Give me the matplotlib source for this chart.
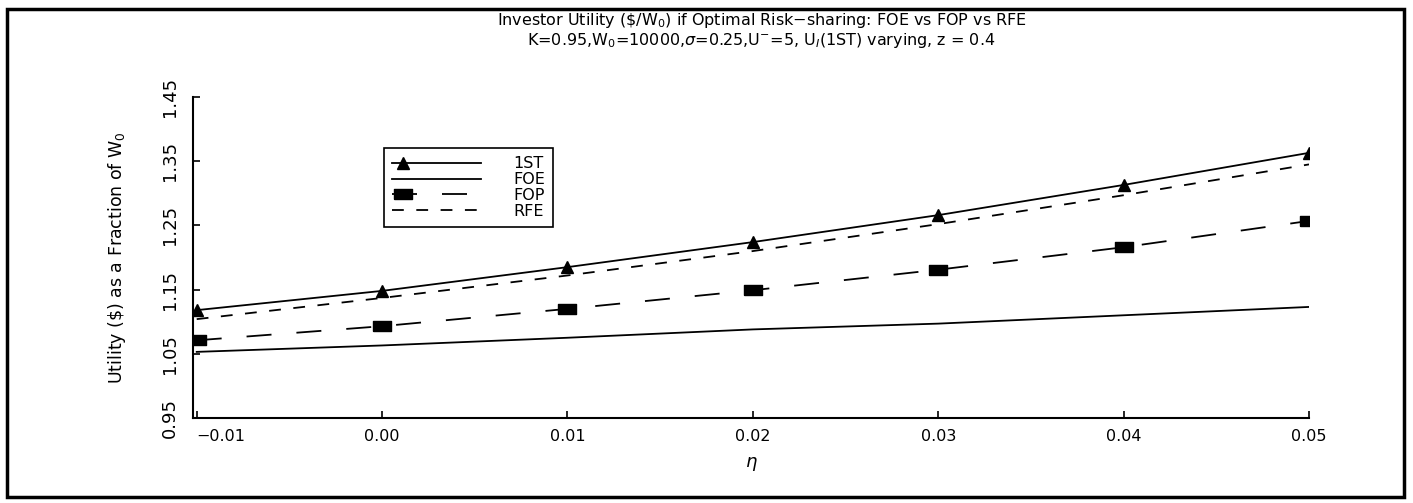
import numpy as np
import matplotlib
matplotlib.use("Agg")
import matplotlib.pyplot as plt
from matplotlib.legend_handler import HandlerLine2DCompound
from matplotlib.patches import Rectangle

# valeurs
eta = [-0.01, 0.00, 0.01, 0.02, 0.03, 0.04, 0.05]
u_1st = [1.118, 1.148, 1.185, 1.224, 1.266, 1.313, 1.363]
u_foe = [1.053, 1.063, 1.075, 1.088, 1.097, 1.110, 1.123]
u_fop = [1.071, 1.093, 1.120, 1.149, 1.181, 1.216, 1.257]
u_rfe = [1.104, 1.137, 1.172, 1.210, 1.252, 1.297, 1.345]

xticks = [-0.01, 0.00, 0.01, 0.02, 0.03, 0.04, 0.05]
xtick_labels = ["\u22120.01", "0.00", "0.01", "0.02", "0.03", "0.04", "0.05"]
yticks = [0.95, 1.05, 1.15, 1.25, 1.35, 1.45]
ytick_labels = ["0.95", "1.05", "1.15", "1.25", "1.35", "1.45"]

plt.rcParams['lines.scale_dashes'] = False

fig = plt.figure(figsize=(14.13, 5.03), dpi=100)
ax = fig.add_axes([193 / 1413, 1 - 418 / 503, (1309 - 193) / 1413, (418 - 97) / 503])

# marqueur rectangulaire large pour FOP
rect = [(-1, -0.5), (1, -0.5), (1, 0.5), (-1, 0.5), (-1, -0.5)]

ax.plot(eta, u_1st, color='black', lw=1.3, marker='^', ms=9, label='1ST')
ax.plot(eta, u_foe, color='black', lw=1.3, label='FOE')
ax.plot(eta, u_fop, color='black', lw=1.3, dashes=(18, 18), marker=rect, ms=13, label='FOP')
ax.plot(eta, u_rfe, color='black', lw=1.3, dashes=(8.5, 9), label='RFE')

ax.set_xlim(-0.0102, 0.05)
ax.set_ylim(0.95, 1.45)
ax.spines['top'].set_visible(False)
ax.spines['right'].set_visible(False)
ax.spines['left'].set_linewidth(1.5)
ax.spines['bottom'].set_linewidth(1.5)

ax.set_xticks(xticks)
ax.set_xticklabels(xtick_labels, fontsize=11.5)
ax.xaxis.get_ticklabels()[0].set_horizontalalignment('left')
ax.set_yticks(yticks)
ax.set_yticklabels(ytick_labels, rotation=90, va='center', fontsize=13)
ax.tick_params(direction='in', length=5, width=1.2)
ax.tick_params(axis='x', pad=8)
ax.tick_params(axis='y', pad=10)

ax.set_xlabel(r'$\eta$', fontsize=13, labelpad=8)
ax.set_ylabel(r'Utility (\$) as a Fraction of W$_0$', fontsize=12.5, labelpad=24)

# titre sur deux lignes
fig.text(0.539, 1 - 21 / 503, 'Investor Utility (\\$/W$_0$) if Optimal Risk\u2212sharing: FOE vs FOP vs RFE',
         ha='center', va='center', fontsize=11.5)
fig.text(0.539, 1 - 41 / 503, r'K=0.95,W$_0$=10000,$\sigma$=0.25,U$^{-}$=5, U$_I$(1ST) varying, z = 0.4',
         ha='center', va='center', fontsize=11.5)


# legende avec le marqueur a gauche du trait
class MarqueurGauche(HandlerLine2DCompound):
    def get_xdata(self, legend, xdescent, ydescent, width, height, fontsize):
        xdata = np.array([-xdescent, -xdescent + width])
        return xdata, np.array([-xdescent + 0.12 * width])


leg = ax.legend(loc='upper left', bbox_to_anchor=(0.171, 0.84),
                handler_map={l: MarqueurGauche() for l in ax.get_lines()},
                fontsize=11.5, handlelength=5.6, handletextpad=2.0, labelspacing=0.05,
                borderpad=0.5, borderaxespad=0, fancybox=False, edgecolor='black',
                framealpha=1)
leg.get_frame().set_linewidth(1.2)

# cadre exterieur
fig.patches.append(Rectangle((7 / 1413, 1 - 497 / 503), (1404 - 7) / 1413, (497 - 9) / 503,
                             transform=fig.transFigure, fill=False, edgecolor='black', lw=2.5))

fig.savefig('out.png', dpi=100)
